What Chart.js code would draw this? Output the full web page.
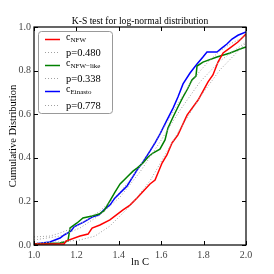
<!DOCTYPE html>
<html><head><meta charset="utf-8">
<script src="https://cdn.jsdelivr.net/npm/chart.js@4"></script>
<style>html,body{margin:0;padding:0;background:#fff}#w{width:274px;height:274px}</style>
</head><body><div id="w"><canvas id="c" width="274" height="274"></canvas></div>
<script>
const titleText = "K-S test for log-normal distribution";
const xTicks = [1.0, 1.2, 1.4, 1.6, 1.8, 2.0];
const yTicks = [0.0, 0.2, 0.4, 0.6, 0.8, 1.0];

const nfwX = [1.0,1.142,1.151,1.217,1.255,1.274,1.311,1.358,1.42,1.453,1.486,1.547,1.571,1.604,1.627,1.651,1.679,1.722,1.774,1.821,1.844,1.868,1.892,1.925,1.962,1.986,2.0];
const nfwY = [0.005,0.005,0.018,0.041,0.05,0.078,0.092,0.115,0.161,0.183,0.216,0.28,0.298,0.376,0.413,0.468,0.505,0.596,0.665,0.748,0.78,0.839,0.881,0.904,0.931,0.954,0.968];

const likeX = [1.0,1.123,1.16,1.17,1.203,1.231,1.274,1.307,1.33,1.358,1.382,1.406,1.439,1.467,1.486,1.514,1.538,1.561,1.594,1.618,1.632,1.656,1.679,1.703,1.726,1.745,1.764,1.769,1.797,1.863,1.925,1.972,2.0];
const likeY = [0.005,0.009,0.018,0.078,0.101,0.124,0.133,0.142,0.156,0.202,0.243,0.28,0.312,0.339,0.353,0.376,0.404,0.422,0.44,0.482,0.537,0.587,0.633,0.679,0.719,0.757,0.775,0.821,0.839,0.862,0.881,0.899,0.908];

const einX = [1.0,1.075,1.123,1.142,1.175,1.189,1.236,1.274,1.307,1.33,1.358,1.382,1.406,1.439,1.462,1.486,1.514,1.547,1.571,1.594,1.627,1.656,1.679,1.703,1.736,1.769,1.797,1.816,1.863,1.887,1.91,1.934,1.962,2.0];
const einY = [0.005,0.014,0.032,0.046,0.064,0.083,0.106,0.128,0.138,0.161,0.183,0.216,0.239,0.271,0.307,0.344,0.381,0.431,0.468,0.509,0.573,0.628,0.679,0.739,0.789,0.83,0.862,0.885,0.885,0.904,0.922,0.945,0.962,0.977];

const fitNfwX = [1.0,1.123,1.217,1.288,1.358,1.453,1.547,1.618,1.689,1.783,1.877,2.0];
const fitNfwY = [0.009,0.014,0.023,0.041,0.087,0.179,0.294,0.413,0.532,0.679,0.803,0.927];

const fitLikeX = [1.0,1.123,1.217,1.311,1.406,1.5,1.594,1.689,1.783,1.877,2.0];
const fitLikeY = [0.023,0.041,0.078,0.138,0.22,0.335,0.472,0.619,0.748,0.844,0.931];

const fitEinX = [1.0,1.075,1.123,1.17,1.217,1.264,1.311,1.358,1.406,1.453,1.5,1.547,1.594,1.642,1.689,1.736,1.783,1.83,1.877,1.925,2.0];
const fitEinY = [0.037,0.041,0.055,0.073,0.096,0.124,0.156,0.197,0.243,0.298,0.362,0.436,0.509,0.587,0.665,0.739,0.798,0.849,0.89,0.922,0.959];

const legendLabels = [
  {main:"c", sub:"NFW", kind:"solid", color:"#ff0000"},
  {main:"p=0.480", kind:"dot"},
  {main:"c", sub:"NFW\u2212like", kind:"solid", color:"#008000"},
  {main:"p=0.338", kind:"dot"},
  {main:"c", sub:"Einasto", kind:"solid", color:"#0000ff"},
  {main:"p=0.778", kind:"dot"}
];

const pts = (xs, ys) => xs.map((x, i) => ({x, y: ys[i]}));
const SERIF = "'Liberation Serif','DejaVu Serif',serif";
const dotColor = "#a0a0a0";

function solid(data, color){ return {data, borderColor: color, borderWidth: 1.5, pointRadius: 0, tension: 0, fill: false}; }
function dotted(data){ return {data, borderColor: dotColor, borderWidth: 1, borderDash: [1, 2], pointRadius: 0, tension: 0, fill: false}; }

const framePlugin = {
  id: 'frame',
  afterDatasetsDraw(chart){
    const {ctx, chartArea: a, scales: {x, y}} = chart;
    ctx.save();
    ctx.strokeStyle = '#000';
    ctx.lineWidth = 1;
    ctx.beginPath();
    const tl = 4;
    xTicks.forEach(v => {
      const px = Math.round(x.getPixelForValue(v)) + 0.5;
      ctx.moveTo(px, a.bottom); ctx.lineTo(px, a.bottom - tl);
      ctx.moveTo(px, a.top); ctx.lineTo(px, a.top + tl);
    });
    yTicks.forEach(v => {
      const py = Math.round(y.getPixelForValue(v)) + 0.5;
      ctx.moveTo(a.left, py); ctx.lineTo(a.left + tl, py);
      ctx.moveTo(a.right, py); ctx.lineTo(a.right - tl, py);
    });
    ctx.stroke();
    ctx.lineWidth = 1.2;
    ctx.strokeRect(a.left, a.top, a.right - a.left, a.bottom - a.top);
    // title
    ctx.fillStyle = '#000';
    ctx.font = "9.6px " + SERIF;
    ctx.textAlign = 'center';
    ctx.textBaseline = 'alphabetic';
    ctx.fillText(titleText, (a.left + a.right) / 2, a.top - 3);
    // legend
    const lx = 38, ly = 31, lw = 74, lh = 82;
    ctx.beginPath();
    ctx.roundRect(lx + 0.5, ly + 0.5, lw, lh, 3);
    ctx.fillStyle = '#fff';
    ctx.fill();
    ctx.strokeStyle = '#999';
    ctx.lineWidth = 1;
    ctx.stroke();
    legendLabels.forEach((it, i) => {
      const cy = 39 + i * 13.1;
      ctx.beginPath();
      if (it.kind === 'solid') { ctx.strokeStyle = it.color; ctx.lineWidth = 1.5; ctx.setLineDash([]); }
      else { ctx.strokeStyle = dotColor; ctx.lineWidth = 1; ctx.setLineDash([1, 2]); }
      ctx.moveTo(45, Math.round(cy) + 0.5); ctx.lineTo(60, Math.round(cy) + 0.5);
      ctx.stroke();
      ctx.setLineDash([]);
      ctx.fillStyle = '#000';
      ctx.textAlign = 'left';
      ctx.textBaseline = 'alphabetic';
      if (it.sub) {
        ctx.font = "10px " + SERIF;
        ctx.fillText(it.main, 66, cy + 1);
        const w = ctx.measureText(it.main).width;
        ctx.font = "7px " + SERIF;
        ctx.fillText(it.sub, 66 + w, cy + 3);
      } else {
        ctx.font = "10.5px " + SERIF;
        ctx.fillText(it.main, 66, cy + 4);
      }
    });
    ctx.restore();
  }
};

new Chart(document.getElementById('c'), {
  type: 'line',
  data: {
    datasets: [
      dotted(pts(fitNfwX, fitNfwY)),
      dotted(pts(fitLikeX, fitLikeY)),
      dotted(pts(fitEinX, fitEinY)),
      solid(pts(nfwX, nfwY), '#ff0000'),
      solid(pts(likeX, likeY), '#008000'),
      solid(pts(einX, einY), '#0000ff')
    ]
  },
  options: {
    responsive: false,
    animation: false,
    devicePixelRatio: 1,
    layout: {padding: {left: 0, right: 28, top: 27, bottom: 0}},
    plugins: {legend: {display: false}, tooltip: {enabled: false}, title: {display: false}},
    scales: {
      x: {
        type: 'linear', min: 1.0, max: 2.0,
        afterBuildTicks: s => { s.ticks = xTicks.map(v => ({value: v})); },
        afterFit: s => { s.height = 29; },
        grid: {display: false, drawTicks: false},
        border: {display: false},
        ticks: {padding: 4, color: '#444', font: {family: SERIF, size: 10}, callback: v => v.toFixed(1), maxRotation: 0},
        title: {display: true, text: 'ln C', color: '#000', font: {family: SERIF, size: 10.5}, padding: {top: 0, bottom: 5}}
      },
      y: {
        type: 'linear', min: 0, max: 1.0,
        afterBuildTicks: s => { s.ticks = yTicks.map(v => ({value: v})); },
        afterFit: s => { s.width = 34; },
        grid: {display: false, drawTicks: false},
        border: {display: false},
        ticks: {padding: 3, color: '#444', font: {family: SERIF, size: 10}, callback: v => v.toFixed(1)},
        title: {display: true, text: 'Cumulative Distribution', color: '#000', font: {family: SERIF, size: 10.5}, padding: {top: 7, bottom: 0}}
      }
    }
  },
  plugins: [framePlugin]
});
</script>
</body></html>
